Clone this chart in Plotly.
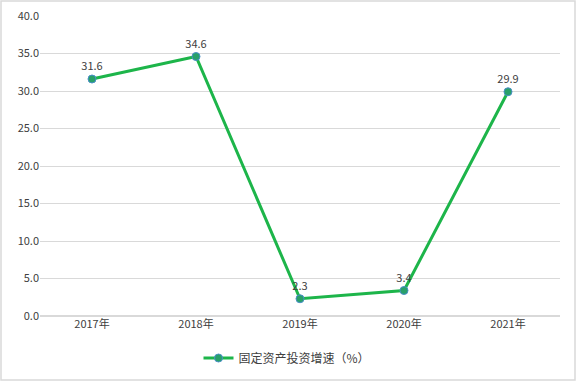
import plotly.graph_objects as go

years = ["2017年", "2018年", "2019年", "2020年", "2021年"]
growth = [31.6, 34.6, 2.3, 3.4, 29.9]
series_name = "固定资产投资增速（%）"
y_ticks = [0, 5, 10, 15, 20, 25, 30, 35, 40]

font_family = "Noto Sans CJK SC, Liberation Sans, sans-serif"

L, R, T, B = 40, 16, 16, 65
W, H = 576, 381
pw, ph = W - L - R, H - T - B

fig = go.Figure()
fig.add_trace(go.Scatter(
    x=years, y=growth, name=series_name,
    mode="lines+markers+text",
    text=[f"{v:.1f}" for v in growth],
    textposition="top center",
    textfont=dict(size=11, color="#404040", family=font_family),
    line=dict(color="#1DB54A", width=3),
    marker=dict(size=8, color="#28A069", line=dict(color="#4A8FC8", width=1)),
))

fig.update_layout(
    width=W, height=H,
    margin=dict(l=L, r=R, t=T, b=B, autoexpand=False),
    paper_bgcolor="white", plot_bgcolor="white",
    font=dict(family=font_family, size=11, color="#404040"),
    showlegend=True,
    legend=dict(orientation="h", x=0.475, xanchor="center", y=-42 / ph, yanchor="middle",
                font=dict(size=12, color="#404040")),
    xaxis=dict(range=[-0.5, 4.5], showgrid=False, showline=False, ticks="", tickfont=dict(size=11)),
    yaxis=dict(range=[0, 40], tickvals=y_ticks, ticktext=[f"{v:.1f}" for v in y_ticks],
               showgrid=True, gridcolor="#D9D9D9", gridwidth=1, zeroline=True,
               zerolinecolor="#D9D9D9", showline=False, ticks="", tickfont=dict(size=11)),
    shapes=[dict(type="rect", xref="paper", yref="paper",
                 x0=-(L - 1) / pw, y0=-(B - 1) / ph, x1=1 + (R - 1) / pw, y1=1 + (T - 1) / ph,
                 line=dict(color="#D9D9D9", width=1.5))],
)

fig.write_html("out.html", config={"displayModeBar": False},
               post_script="document.body.style.margin='0';document.body.style.overflow='hidden';")
